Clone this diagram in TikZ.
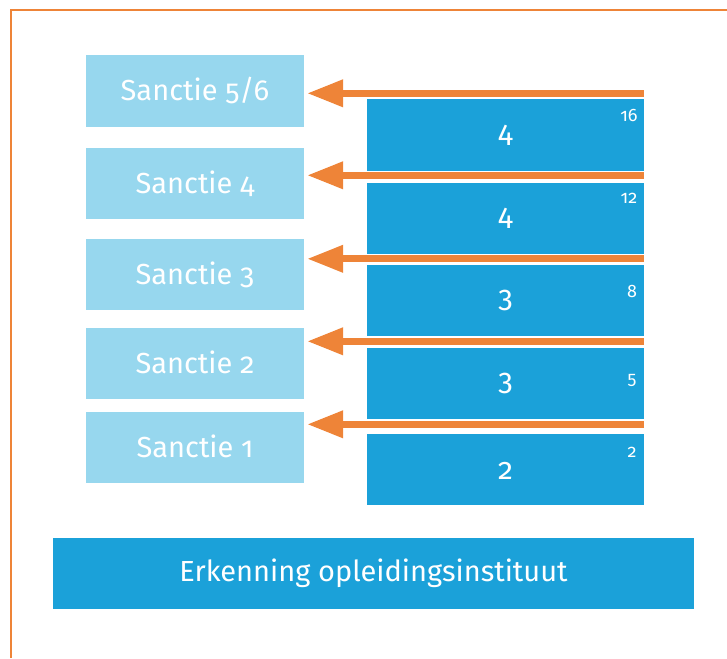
\documentclass[tikz,border=0pt]{standalone}
\usepackage{fontspec}
\setmainfont{Fira Sans}
\newfontfamily\oldnum{Fira Sans}[Numbers=OldStyle]
\usetikzlibrary{arrows.meta}
\definecolor{lichtblauw}{RGB}{151,215,238}
\definecolor{donkerblauw}{RGB}{27,161,217}
\definecolor{oranje}{RGB}{238,132,56}

\begin{document}
\begin{tikzpicture}[x=1pt, y=-1pt,
        sanctie/.style={fill=lichtblauw, text=white, minimum width=218pt, minimum height=71pt, inner sep=0pt,
            text height=20pt, text depth=0pt, font=\oldnum\fontsize{29}{29}\selectfont},
        niveau/.style={fill=donkerblauw, text=white, minimum width=277pt, minimum height=71pt, inner sep=0pt,
            text height=20pt, text depth=0pt, font=\fontsize{30}{30}\selectfont},
        punten/.style={text=white, inner sep=0pt, font=\oldnum\fontsize{18}{18}\selectfont},
        pijl/.style={oranje, line width=7pt, shorten >=3pt, -{Triangle[length=36pt, width=26pt]}}]
        \useasboundingbox (0,0) rectangle (727,658);

        % kader
        \draw [oranje, line width=2.5pt] (11,658) -- (11,10) -- (727,10);

        % sancties
        \node[sanctie] (s56) at (195,91) {Sanctie 5/6};
        \node[sanctie] (s4) at (195,183) {Sanctie 4};
        \node[sanctie] (s3) at (195,274) {Sanctie 3};
        \node[sanctie] (s2) at (195,363) {Sanctie 2};
        \node[sanctie] (s1) at (195,447) {Sanctie 1};

        % niveaus
        \node[niveau] (b16) at (505.5,135) {4};
        \node[niveau] (b12) at (505.5,218) {4};
        \node[niveau] (b8) at (505.5,300.5) {3};
        \node[niveau] (b5) at (505.5,383) {3};
        \node[niveau] (b2) at (505.5,469) {\oldnum 2};

        \node[punten] (p16) at (629,115) {16};
        \node[punten] (p12) at (629,198) {12};
        \node[punten] (p8) at (632,291) {8};
        \node[punten] (p5) at (632,380) {5};
        \node[punten] (p2) at (632,452) {2};

        \node[fill=donkerblauw, text=white, minimum width=641pt, minimum height=71pt, inner sep=0pt,
            font=\fontsize{29}{29}\selectfont] (erk) at (373.5,573.5) {Erkenning opleidingsinstituut};

        % pijlen
        \coordinate (a16) at ([yshift=6pt]b16.north east);
        \coordinate (a12) at ([yshift=7pt]b12.north east);
        \coordinate (a8) at ([yshift=6pt]b8.north east);
        \coordinate (a5) at ([yshift=6pt]b5.north east);
        \coordinate (a2) at ([yshift=9pt]b2.north east);
        \draw[pijl] (a16) -- (s56.east |- a16);
        \draw[pijl] (a12) -- (s4.east |- a12);
        \draw[pijl] (a8) -- (s3.east |- a8);
        \draw[pijl] (a5) -- (s2.east |- a5);
        \draw[pijl] (a2) -- (s1.east |- a2);
    \end{tikzpicture}
\end{document}
